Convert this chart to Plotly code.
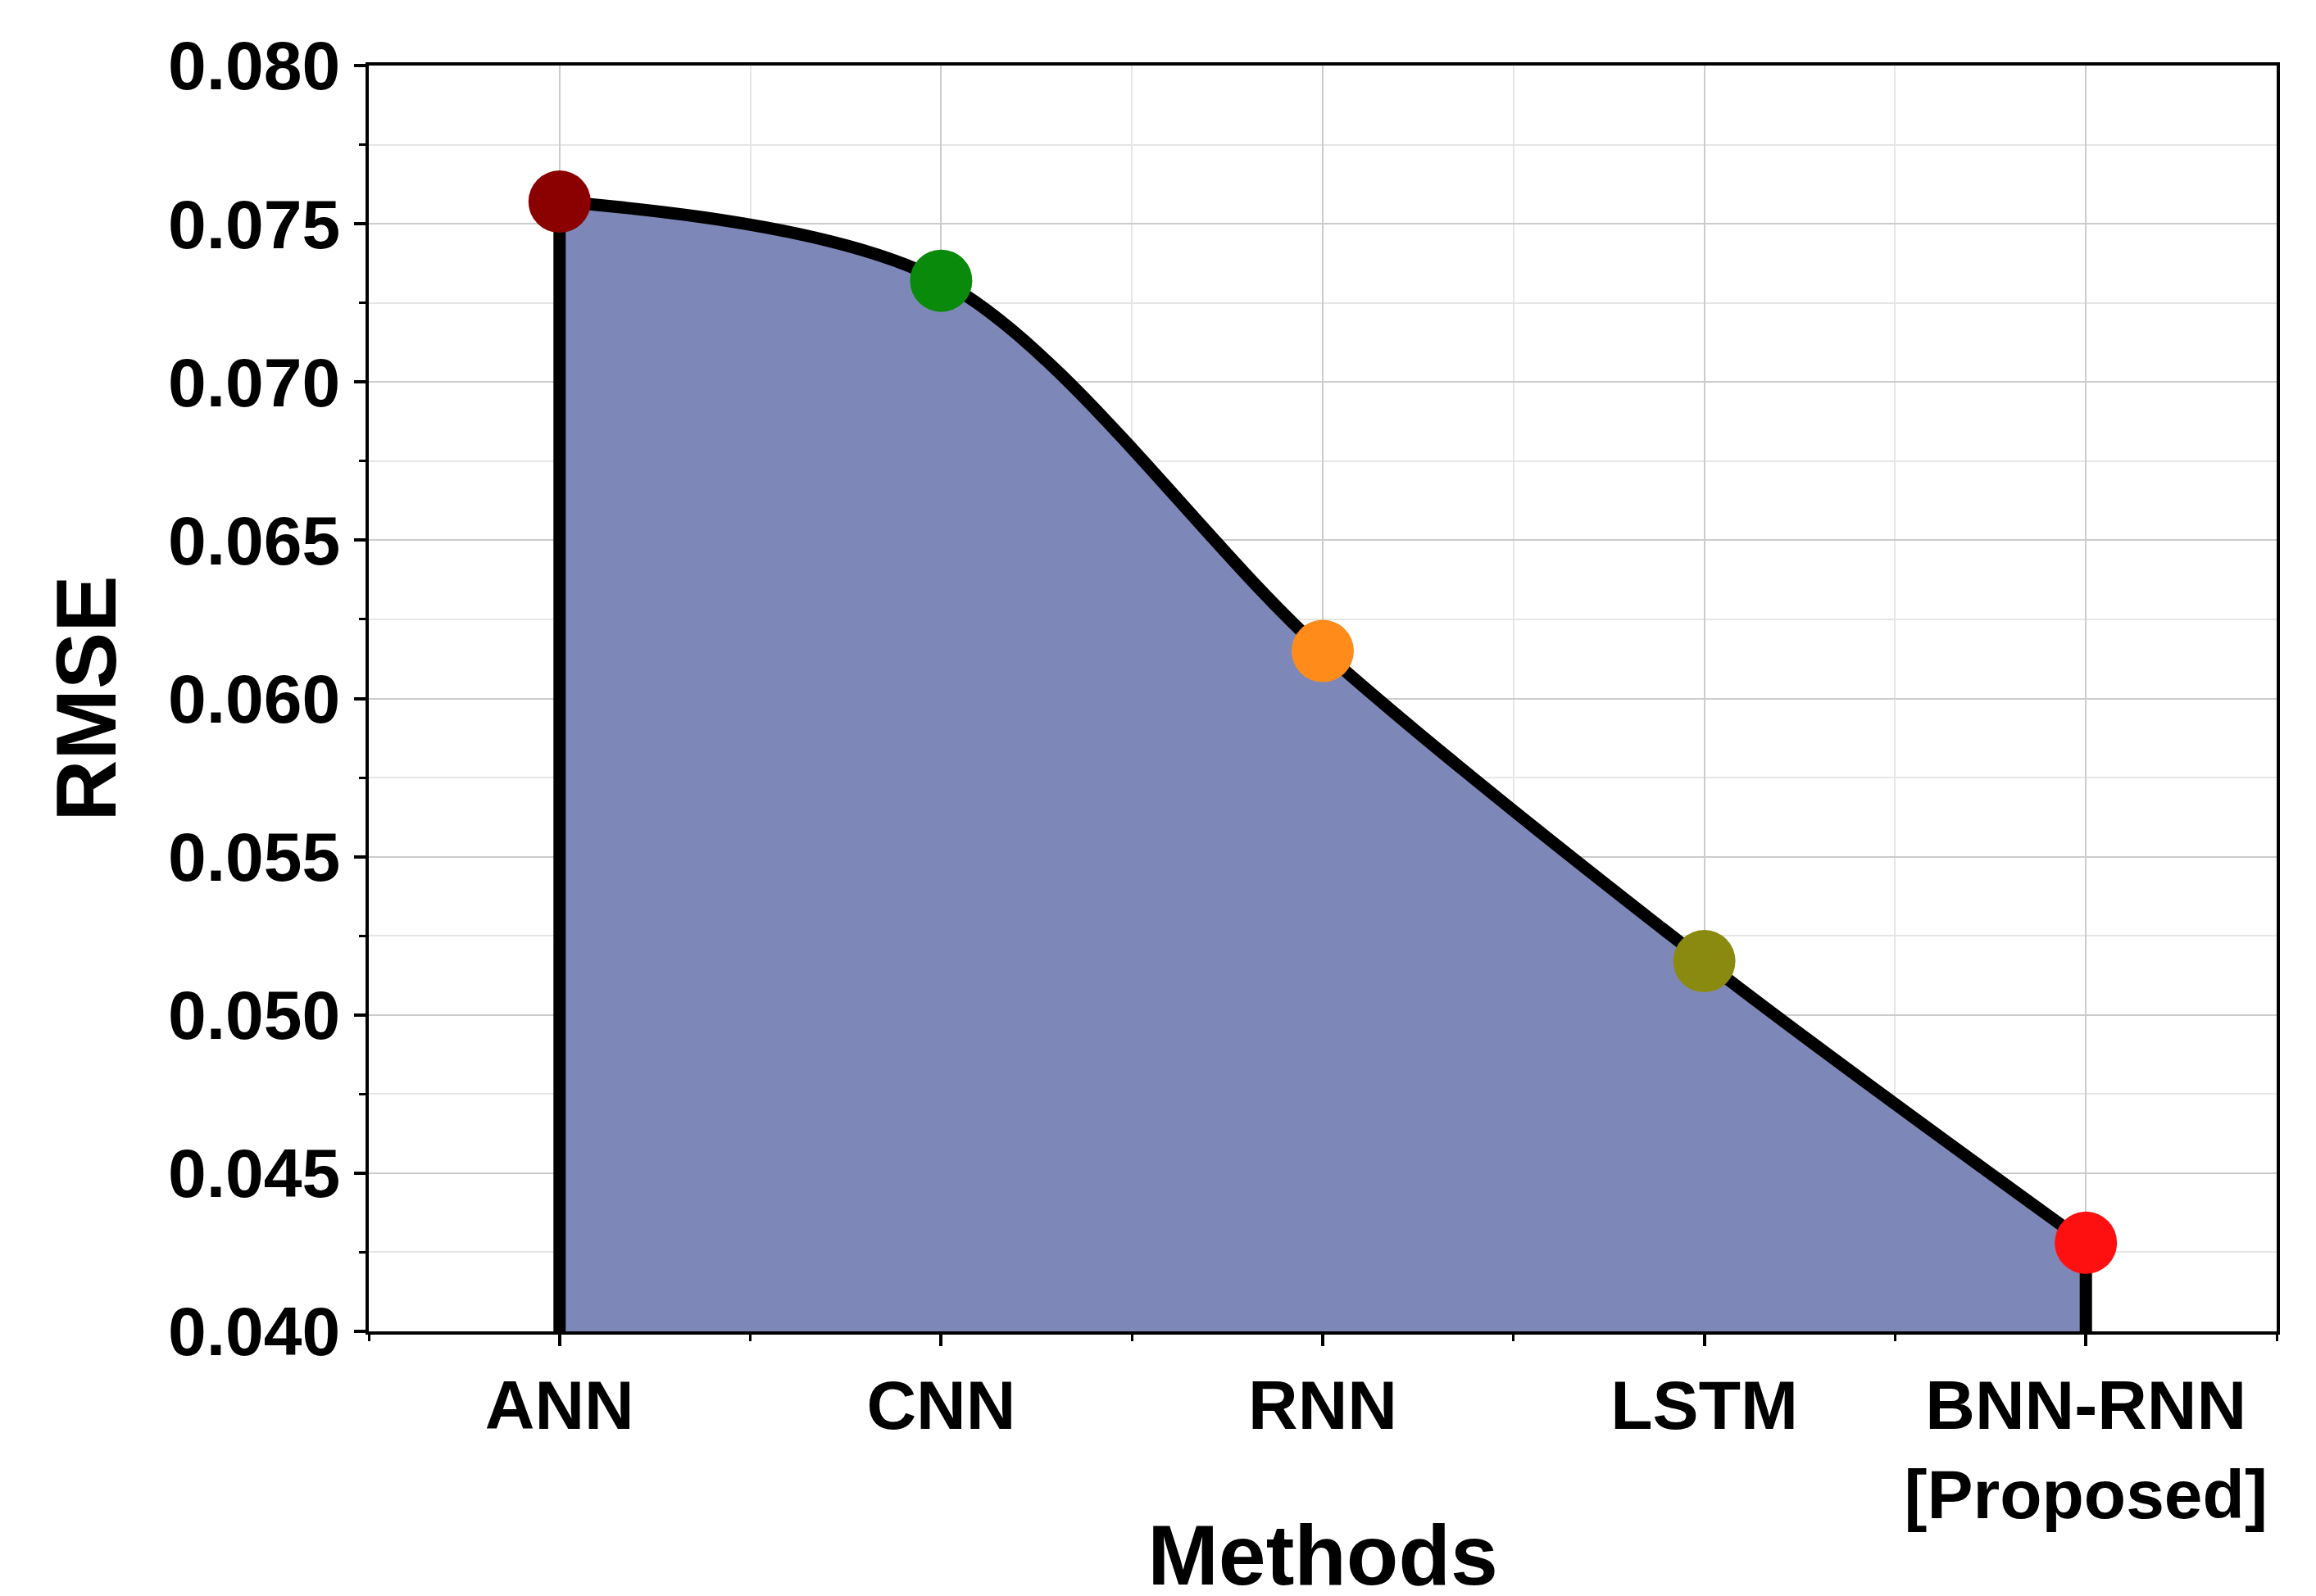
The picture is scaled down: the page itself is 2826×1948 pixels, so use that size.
import plotly.graph_objects as go

methods = ["ANN", "CNN", "RNN", "LSTM", "BNN-RNN<br>[Proposed]"]
rmse = [0.0757, 0.0732, 0.0615, 0.0517, 0.0428]
marker_colors = ["#8b0000", "#0a8a0a", "#ff8c1a", "#8a8a10", "#ff1010"]
ymin, ymax = 0.040, 0.080
xi = list(range(len(methods)))

fig = go.Figure()
fig.add_trace(go.Scatter(x=xi, y=rmse, mode="lines", line=dict(shape="spline", smoothing=0.9, color="black", width=15),
                         fill="tozeroy", fillcolor="#7d88b8", showlegend=False))
fig.add_trace(go.Scatter(x=[xi[0], xi[0]], y=[ymin, rmse[0]], mode="lines", line=dict(color="black", width=15), showlegend=False))
fig.add_trace(go.Scatter(x=[xi[-1], xi[-1]], y=[ymin, rmse[-1]], mode="lines", line=dict(color="black", width=15), showlegend=False))
fig.add_trace(go.Scatter(x=xi, y=rmse, mode="markers", marker=dict(size=76, color=marker_colors), showlegend=False))

font = dict(family="Liberation Sans", size=84, color="black", weight="bold")
tfont = dict(family="Liberation Sans", size=104, weight="bold", color="black")
fig.update_layout(
    width=2826, height=1948, plot_bgcolor="white", paper_bgcolor="white",
    margin=dict(l=442, r=56, t=72, b=281),
    font=font,
    xaxis=dict(range=[-0.5, 4.5], tickvals=xi, ticktext=methods, tickfont=font,
               title=dict(text="Methods", font=tfont, standoff=0),
               showline=True, linecolor="black", linewidth=4, mirror=True,
               ticks="outside", ticklen=14, tickwidth=4, tickcolor="black",
               showgrid=True, gridcolor="#cccccc", gridwidth=2,
               minor=dict(dtick=0.5, tick0=-0.5, ticks="outside", ticklen=8, tickwidth=3, tickcolor="black", showgrid=True, gridcolor="#e6e6e6"),
               zeroline=False),
    yaxis=dict(range=[ymin, ymax], dtick=0.005, tickformat=".3f", tickfont=font,
               title=dict(text="RMSE", font=tfont, standoff=30),
               showline=True, linecolor="black", linewidth=4, mirror=True,
               ticks="outside", ticklen=14, tickwidth=4, tickcolor="black",
               showgrid=True, gridcolor="#cccccc", gridwidth=2,
               minor=dict(dtick=0.0025, ticks="outside", ticklen=8, tickwidth=3, tickcolor="black", showgrid=True, gridcolor="#e6e6e6"),
               zeroline=False),
)
fig.write_html("out.html")
